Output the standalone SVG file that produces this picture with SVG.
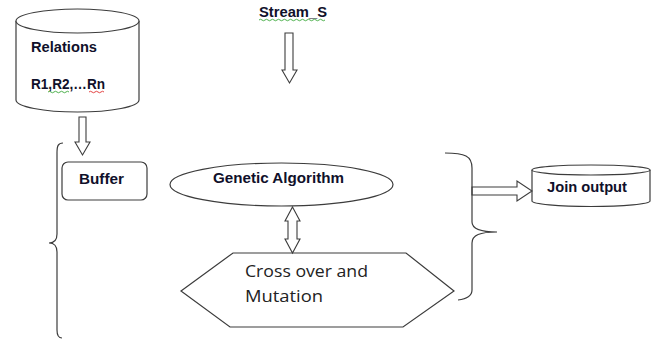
<svg xmlns="http://www.w3.org/2000/svg" width="659" height="339" viewBox="0 0 659 339">
  <defs>
    <style>
      .shape { fill: #ffffff; stroke: #3c3c3c; stroke-width: 1.2; }
      .line { fill: none; stroke: #3c3c3c; stroke-width: 1.2; }
      .arrow { fill: #ffffff; stroke: #3c3c3c; stroke-width: 1.1; }
      .lbl { font-family: "Liberation Sans", Arial, sans-serif; font-weight: bold; font-size: 14px; fill: #10102a; }
      .lblr { font-family: "Open Sans", "Liberation Sans", sans-serif; font-size: 16px; fill: #222222; }
      .sq-g { fill: none; stroke: #3aa83a; stroke-width: 0.9; }
      .sq-r { fill: none; stroke: #e03030; stroke-width: 0.9; }
    </style>
  </defs>
  <rect width="659" height="339" fill="#ffffff"/>

  <!-- Relations store -->
  <g id="relations">
    <path class="shape" d="M16,21 L16,100 A61.5,12 0 0 0 139,100 L139,21"/>
    <ellipse class="shape" cx="77.5" cy="21" rx="61.5" ry="12"/>
    <text class="lbl" x="31" y="52" textLength="66" lengthAdjust="spacingAndGlyphs">Relations</text>
    <text class="lbl" x="31" y="89" textLength="74" lengthAdjust="spacingAndGlyphs">R1,R2,…Rn</text>
    <path class="sq-g" d="M48,92 q1.5,-1.5 3,0 t3,0 t3,0 t3,0 t3,0 t3,0 t3,0"/>
    <path class="sq-r" d="M89,92 q1.5,-1.5 3,0 t3,0 t3,0 t3,0 t3,0"/>
  </g>

  <!-- Stream label -->
  <g id="stream">
    <text class="lbl" x="259" y="17" textLength="68" lengthAdjust="spacingAndGlyphs">Stream_S</text>
    <path class="sq-g" d="M259,20 q1.5,-1.5 3,0 t3,0 t3,0 t3,0 t3,0 t3,0 t3,0 t3,0 t3,0 t3,0 t3,0 t3,0 t3,0 t3,0 t3,0 t3,0 t3,0 t3,0 t3,0 t3,0 t3,0 t3,0"/>
  </g>

  <!-- Buffer -->
  <g id="buffer">
    <rect class="shape" x="62" y="162" width="85" height="38" rx="6" ry="6"/>
    <text class="lbl" x="79" y="184" textLength="45" lengthAdjust="spacingAndGlyphs">Buffer</text>
  </g>

  <!-- Genetic Algorithm -->
  <g id="genetic-algorithm">
    <ellipse class="shape" cx="281.5" cy="184.5" rx="111.5" ry="21.5"/>
    <text class="lbl" x="213" y="183" font-size="13" textLength="131" lengthAdjust="spacingAndGlyphs">Genetic Algorithm</text>
  </g>

  <!-- Cross over and Mutation -->
  <g id="crossover-mutation">
    <polygon class="shape" points="181,291 233,253 406,253 454,291 403,327 230,327"/>
    <text class="lblr" x="245" y="277" textLength="123" lengthAdjust="spacingAndGlyphs">Cross over and</text>
    <text class="lblr" x="245" y="302" textLength="78" lengthAdjust="spacingAndGlyphs">Mutation</text>
  </g>

  <!-- Join output store -->
  <g id="join-output">
    <path class="shape" d="M532,170 L532,201 A59,5.5 0 0 0 650,201 L650,170"/>
    <ellipse class="shape" cx="591" cy="170" rx="59" ry="5"/>
    <text class="lbl" x="547" y="192" textLength="80" lengthAdjust="spacingAndGlyphs">Join output</text>
  </g>

  <!-- Connectors: block arrows and braces -->
  <g id="connectors">
    <polygon class="arrow" points="79,117 86,117 86,142 90,142 82.5,155 75,142 79,142"/>
    <polygon class="arrow" points="285,33 293,33 293,70 297,70 289.5,83 282,70 285,70"/>
    <polygon class="arrow" points="292.5,207 300,221 297,221 297,239 300,239 292.5,253 285,239 288,239 288,221 285,221"/>
    <polygon class="arrow" points="472,187 517,187 517,181 532,191 517,201 517,195 472,195"/>
    <path class="line" d="M63,143 C58,143 57,146 57,153 L57,234 C57,240 54,243 49,243 C54,243 57,246 57,252 L57,330 C57,335 58,338 62,338"/>
    <path class="line" d="M445,153 C465,153 472,156 472,168 L472,222 C472,229 480,232 497,232 C480,232 472,235 472,243 L472,290 C472,296 466,299 458,300"/>
  </g>
</svg>
